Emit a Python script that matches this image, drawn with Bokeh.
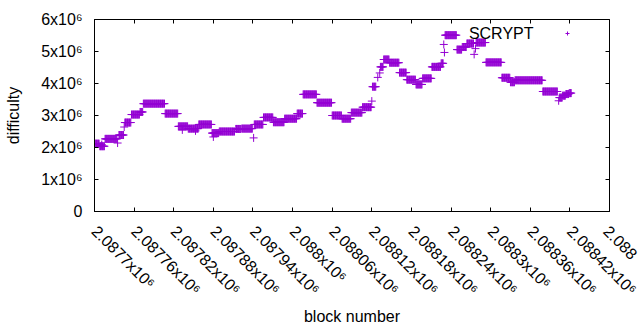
import numpy as np
from bokeh.plotting import figure
from bokeh.models import (FixedTicker, Range1d, LinearAxis, Label, Legend, LegendItem,
                          ColumnDataSource, CustomLabelingPolicy)
from bokeh.embed import file_html
from bokeh.resources import INLINE

# runs of consecutive SCRYPT blocks sharing one difficulty (first block, last block, difficulty in 1e6)
run_first = [2087701, 2087708, 2087716, 2087737, 2087746, 2087756, 2087769, 2087774, 2087807, 2087827,
             2087842, 2087858, 2087878, 2087889, 2087914, 2087923, 2087942, 2087956, 2087971, 2087988,
             2088007, 2088016, 2088037, 2088060, 2088075, 2088089, 2088106, 2088121, 2088133, 2088138,
             2088147, 2088162, 2088173, 2088187, 2088197, 2088211, 2088225, 2088231, 2088249, 2088257,
             2088264, 2088278, 2088293, 2088317, 2088330, 2088337, 2088379, 2088404, 2088409, 2088414,
             2088419]
run_last = [2087707, 2087715, 2087734, 2087744, 2087755, 2087768, 2087773, 2087806, 2087826, 2087841,
            2087857, 2087877, 2087888, 2087912, 2087921, 2087939, 2087955, 2087970, 2087987, 2088006,
            2088015, 2088036, 2088059, 2088074, 2088088, 2088105, 2088119, 2088126, 2088137, 2088146,
            2088161, 2088172, 2088186, 2088196, 2088210, 2088224, 2088228, 2088248, 2088256, 2088263,
            2088274, 2088292, 2088316, 2088329, 2088336, 2088378, 2088401, 2088408, 2088413, 2088418,
            2088422]
run_diff = [2.12, 2.04, 2.27, 2.39, 2.78, 3.03, 3.11, 3.37, 3.06, 2.66,
            2.59, 2.72, 2.45, 2.50, 2.58, 2.59, 2.72, 2.94, 2.79, 2.90,
            3.06, 3.66, 3.40, 3.00, 2.90, 3.09, 3.26, 3.90, 4.52, 4.75,
            4.65, 4.34, 4.12, 3.97, 4.16, 4.52, 4.63, 5.51, 5.06, 5.14,
            5.25, 5.28, 4.66, 4.18, 4.04, 4.10, 3.75, 3.56, 3.62, 3.67,
            3.70]

# isolated SCRYPT blocks
single_block = [2087711, 2087735, 2087745, 2087833, 2087853, 2087880, 2087941, 2088120, 2088129, 2088132,
                2088229, 2088230, 2088275, 2088277, 2088403]
single_diff = [2.09, 2.14, 2.64, 2.55, 2.52, 2.33, 2.30, 3.45, 4.19, 4.33,
               5.22, 4.97, 4.91, 5.09, 3.46]

x_ticks = [2087700 + 60 * i for i in range(14)]
# the last label is cut by the window edge in the reference
x_tick_labels = ["2.0877x10⁶", "2.08776x10⁶", "2.08782x10⁶", "2.08788x10⁶", "2.08794x10⁶",
                 "2.088x10⁶", "2.08806x10⁶", "2.08812x10⁶", "2.08818x10⁶", "2.08824x10⁶",
                 "2.0883x10⁶", "2.08836x10⁶", "2.08842x10⁶", "2.088"]
y_ticks = [0, 1000000, 2000000, 3000000, 4000000, 5000000, 6000000]
y_tick_labels = ["0", "1x10⁶", "2x10⁶", "3x10⁶", "4x10⁶", "5x10⁶", "6x10⁶"]

series_name = "SCRYPT"
color = "#9400D3"
font = "Liberation Sans"

blocks = []
diffs = []
for a, b, d in zip(run_first, run_last, run_diff):
    for blk in range(a, b + 1):
        blocks.append(blk)
        diffs.append(d * 1e6)
for blk, d in zip(single_block, single_diff):
    blocks.append(blk)
    diffs.append(d * 1e6)

src = ColumnDataSource(dict(x=blocks, y=diffs))

p = figure(width=640, height=330, output_backend="svg", toolbar_location=None,
           x_range=Range1d(2087700, 2088480), y_range=Range1d(0, 6000000),
           min_border_left=94, min_border_right=31, min_border_top=19, min_border_bottom=119)
p.background_fill_color = "white"
p.border_fill_color = "white"
p.grid.visible = False
p.outline_line_color = "black"
p.outline_line_width = 1

r = p.scatter("x", "y", source=src, marker="cross", size=8, line_color=color, line_width=1)

for ax in (p.xaxis[0], p.yaxis[0]):
    ax.major_tick_in = 4
    ax.major_tick_out = 0
    ax.minor_tick_line_color = None
    ax.axis_line_color = "black"
    ax.major_label_text_font = font
    ax.major_label_text_font_size = "16px"
    ax.major_label_text_color = "#000000"
    ax.axis_label_text_font = font
    ax.axis_label_text_font_size = "16px"
    ax.axis_label_text_font_style = "normal"
    ax.axis_label_text_color = "#000000"

p.xaxis[0].ticker = FixedTicker(ticks=x_ticks)
p.xaxis[0].major_label_overrides = dict(zip(x_ticks, x_tick_labels))
p.xaxis[0].major_label_orientation = -np.pi / 4
p.xaxis[0].major_label_standoff = 17
p.xaxis[0].axis_label = "block number"
p.xaxis[0].axis_label_standoff = 1

p.yaxis[0].ticker = FixedTicker(ticks=y_ticks)
p.yaxis[0].major_label_overrides = dict(zip(y_ticks, y_tick_labels))
p.yaxis[0].major_label_standoff = 12
p.yaxis[0].axis_label = "difficulty"
p.yaxis[0].axis_label_standoff = 16

hide_all = CustomLabelingPolicy(code="""
for (const i of indices) { indices.unset(i) }
return indices
""")

top = LinearAxis(ticker=FixedTicker(ticks=x_ticks), major_tick_in=4, major_tick_out=0,
                 minor_tick_line_color=None, major_label_text_font_size="8px",
                 major_label_overrides={t: "" for t in x_ticks}, major_label_policy=hide_all,
                 major_label_standoff=0, axis_line_color=None)
right = LinearAxis(ticker=FixedTicker(ticks=y_ticks), major_tick_in=4, major_tick_out=0,
                   minor_tick_line_color=None, major_label_text_font_size="8px",
                   major_label_overrides={t: "" for t in y_ticks}, major_label_policy=hide_all,
                   major_label_standoff=0, axis_line_color=None)
p.add_layout(top, "above")
p.add_layout(right, "right")

p.add_layout(Label(x=439, y=178, x_units="screen", y_units="screen", text=series_name,
                   text_font=font, text_font_size="16px", text_color="#000000",
                   text_align="right", text_baseline="middle"))
leg = Legend(items=[LegendItem(label=" ", renderers=[r])], location=(468, 173),
             glyph_width=10, glyph_height=10, padding=0, margin=0, spacing=0,
             label_standoff=0, label_width=0, label_height=10, label_text_font_size="1px",
             background_fill_alpha=0, border_line_color=None)
p.add_layout(leg, "center")

open("out.html", "w").write(file_html(p, INLINE))
